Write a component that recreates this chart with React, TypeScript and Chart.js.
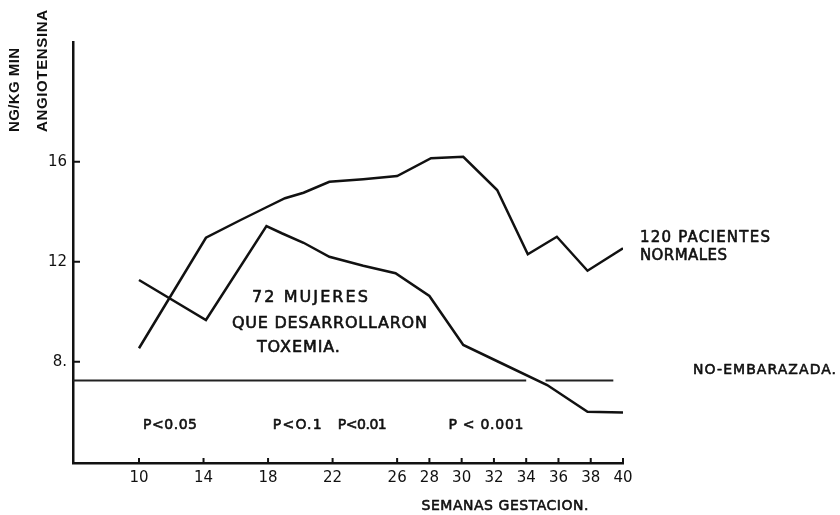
import React, { useEffect, useRef } from 'react';
import { Chart, registerables } from 'chart.js';

Chart.register(...registerables);

// Semanas de gestación / valores (ng/kg min angiotensina)
const weeksNormal = [10, 14.15, 16.3, 17.9, 19.05, 20.2, 21.8, 23.9, 26.0, 28.1, 30.1, 32.2, 34.1, 35.9, 37.8, 40];
const valuesNormal = [8.54, 12.96, 13.67, 14.18, 14.54, 14.76, 15.2, 15.3, 15.43, 16.14, 16.2, 14.87, 12.3, 13.0, 11.64, 12.54];

const weeksToxemia = [10, 14.15, 17.9, 18.85, 20.2, 21.8, 23.9, 25.9, 28.0, 30.1, 32.5, 35.3, 37.8, 40];
const valuesToxemia = [11.27, 9.67, 13.43, 13.14, 12.76, 12.2, 11.84, 11.54, 10.63, 8.67, 7.93, 7.07, 6.0, 5.97];

const weeksNonPregnant = [5.9, 34.0, 34.6, 35.2, 39.4];
const valuesNonPregnant: (number | null)[] = [7.25, 7.25, null, 7.25, 7.25];

const xTickValues = [10, 14, 18, 22, 26, 28, 30, 32, 34, 36, 38, 40];
const yTickValues = [8, 12, 16];
const yTickLabels = ['8.', '12', '16'];

const xMin = 5.91;
const xMax = 40;
const yMin = 3.95;
const yMax = 20.79;

// Text labels anchored in data space (week, value)
const annotationTexts = ['72 MUJERES', 'QUE DESARROLLARON', 'TOXEMIA.', '120 PACIENTES', 'NORMALES', 'NO-EMBARAZADA.', 'P<0.05', 'P<O.1', 'P<0.01', 'P < 0.001', 'SEMANAS GESTACION.'];
const annotationWeeks = [17.0, 15.76, 17.31, 41.05, 41.05, 44.34, 10.25, 18.29, 22.32, 29.18, 27.51];
const annotationValues = [10.57, 9.51, 8.57, 12.95, 12.23, 7.67, 5.47, 5.47, 5.47, 5.47, 2.23];

const yTitleLines = ['NG/KG MIN', 'ANGIOTENSINA'];

// styling: font size and rendered width of each text
const annotationSizes = [16, 16, 16, 15, 15, 14, 14, 14, 14, 14, 14];
const annotationFitWidths = [116, 195, 83, 130, 87, 143, 54, 49, 49, 75, 167];
const yTitleFitWidths = [84, 122];
const yTitleX = [15, 43];

const FONT = '"DejaVu Sans", sans-serif';
const TITLE_FONT = '"Liberation Sans", Arial, sans-serif';

const toPoints = (xs: number[], ys: (number | null)[]) => xs.map((x, i) => ({ x, y: ys[i] }));

function fitText(ctx: CanvasRenderingContext2D, text: string, width: number) {
  (ctx as any).letterSpacing = '0px';
  const w = ctx.measureText(text).width;
  const n = Math.max(1, text.length - 1);
  const sp = (width - w) / n;
  (ctx as any).letterSpacing = `${sp.toFixed(2)}px`;
}

export default function App() {
  const canvasRef = useRef<HTMLCanvasElement | null>(null);

  useEffect(() => {
    const canvas = canvasRef.current;
    if (!canvas) return;

    const overlay = {
      id: 'overlay',
      afterDraw(chart: any) {
        const ctx = chart.ctx as CanvasRenderingContext2D;
        const xs = chart.scales.x;
        const ys = chart.scales.y;
        const area = chart.chartArea;
        ctx.save();
        // inward tick marks
        ctx.strokeStyle = '#111';
        ctx.lineWidth = 2;
        xTickValues.forEach((v) => {
          const px = xs.getPixelForValue(v);
          ctx.beginPath();
          ctx.moveTo(px, area.bottom);
          ctx.lineTo(px, area.bottom - 5);
          ctx.stroke();
        });
        yTickValues.forEach((v) => {
          const py = ys.getPixelForValue(v);
          ctx.beginPath();
          ctx.moveTo(area.left, py);
          ctx.lineTo(area.left + 7, py);
          ctx.stroke();
        });

        // annotations
        ctx.fillStyle = '#111';
        ctx.strokeStyle = '#111';
        ctx.lineWidth = 0.6;
        ctx.lineJoin = 'round';
        ctx.textBaseline = 'middle';
        ctx.textAlign = 'left';
        annotationTexts.forEach((t, i) => {
          const px = xs.getPixelForValue(annotationWeeks[i]);
          const py = ys.getPixelForValue(annotationValues[i]);
          ctx.font = `${annotationSizes[i]}px ${FONT}`;
          fitText(ctx, t, annotationFitWidths[i]);
          ctx.fillText(t, px, py);
          ctx.strokeText(t, px, py);
        });

        // y axis title (rotated, reading upward)
        const baseY = ys.getPixelForValue(17.19);
        ctx.font = `bold 15px ${TITLE_FONT}`;
        yTitleLines.forEach((t, i) => {
          ctx.save();
          fitText(ctx, t, yTitleFitWidths[i]);
          ctx.translate(yTitleX[i], baseY);
          ctx.rotate(-Math.PI / 2);
          ctx.textAlign = 'left';
          ctx.textBaseline = 'middle';
          ctx.fillText(t, 0, 0);
          ctx.restore();
        });
        ctx.restore();
      },
    };

    const chart = new Chart(canvas, {
      type: 'line',
      data: {
        datasets: [
          {
            label: '120 PACIENTES NORMALES',
            data: toPoints(weeksNormal, valuesNormal),
            borderColor: '#111',
            borderWidth: 2.5,
            pointRadius: 0,
            tension: 0,
          },
          {
            label: '72 MUJERES QUE DESARROLLARON TOXEMIA',
            data: toPoints(weeksToxemia, valuesToxemia),
            borderColor: '#111',
            borderWidth: 2.5,
            pointRadius: 0,
            tension: 0,
          },
          {
            label: 'NO-EMBARAZADA',
            data: toPoints(weeksNonPregnant, valuesNonPregnant),
            borderColor: '#222',
            borderWidth: 2,
            pointRadius: 0,
            spanGaps: false,
            tension: 0,
          },
        ],
      },
      options: {
        responsive: false,
        maintainAspectRatio: false,
        animation: false,
        devicePixelRatio: 1,
        layout: { padding: { left: 0, top: 42, right: 217, bottom: 0 } },
        plugins: {
          legend: { display: false },
          tooltip: { enabled: false },
          title: { display: false },
        },
        scales: {
          x: {
            type: 'linear',
            min: xMin,
            max: xMax,
            afterBuildTicks: (scale: any) => {
              scale.ticks = xTickValues.map((v) => ({ value: v }));
            },
            afterFit: (scale: any) => {
              scale.height = 52;
            },
            grid: { display: false, drawTicks: false },
            border: { display: true, color: '#111', width: 2.5 },
            ticks: {
              color: '#111',
              font: { family: FONT, size: 15 },
              padding: 6,
              maxRotation: 0,
              autoSkip: false,
              callback: (v: any) => String(v),
            },
          },
          y: {
            type: 'linear',
            min: yMin,
            max: yMax,
            afterBuildTicks: (scale: any) => {
              scale.ticks = yTickValues.map((v) => ({ value: v }));
            },
            afterFit: (scale: any) => {
              scale.width = 73;
            },
            grid: { display: false, drawTicks: false },
            border: { display: true, color: '#111', width: 2.5 },
            ticks: {
              color: '#111',
              font: { family: FONT, size: 15 },
              padding: 6,
              autoSkip: false,
              callback: (v: any) => {
                const idx = yTickValues.indexOf(Number(v));
                return idx >= 0 ? yTickLabels[idx] : '';
              },
            },
          },
        },
      },
      plugins: [overlay],
    } as any);

    return () => chart.destroy();
  }, []);

  return (
    <div style={{ position: 'fixed', left: 0, top: 0, width: 840, height: 515, background: '#fff' }}>
      <canvas ref={canvasRef} width={840} height={515} />
    </div>
  );
}
